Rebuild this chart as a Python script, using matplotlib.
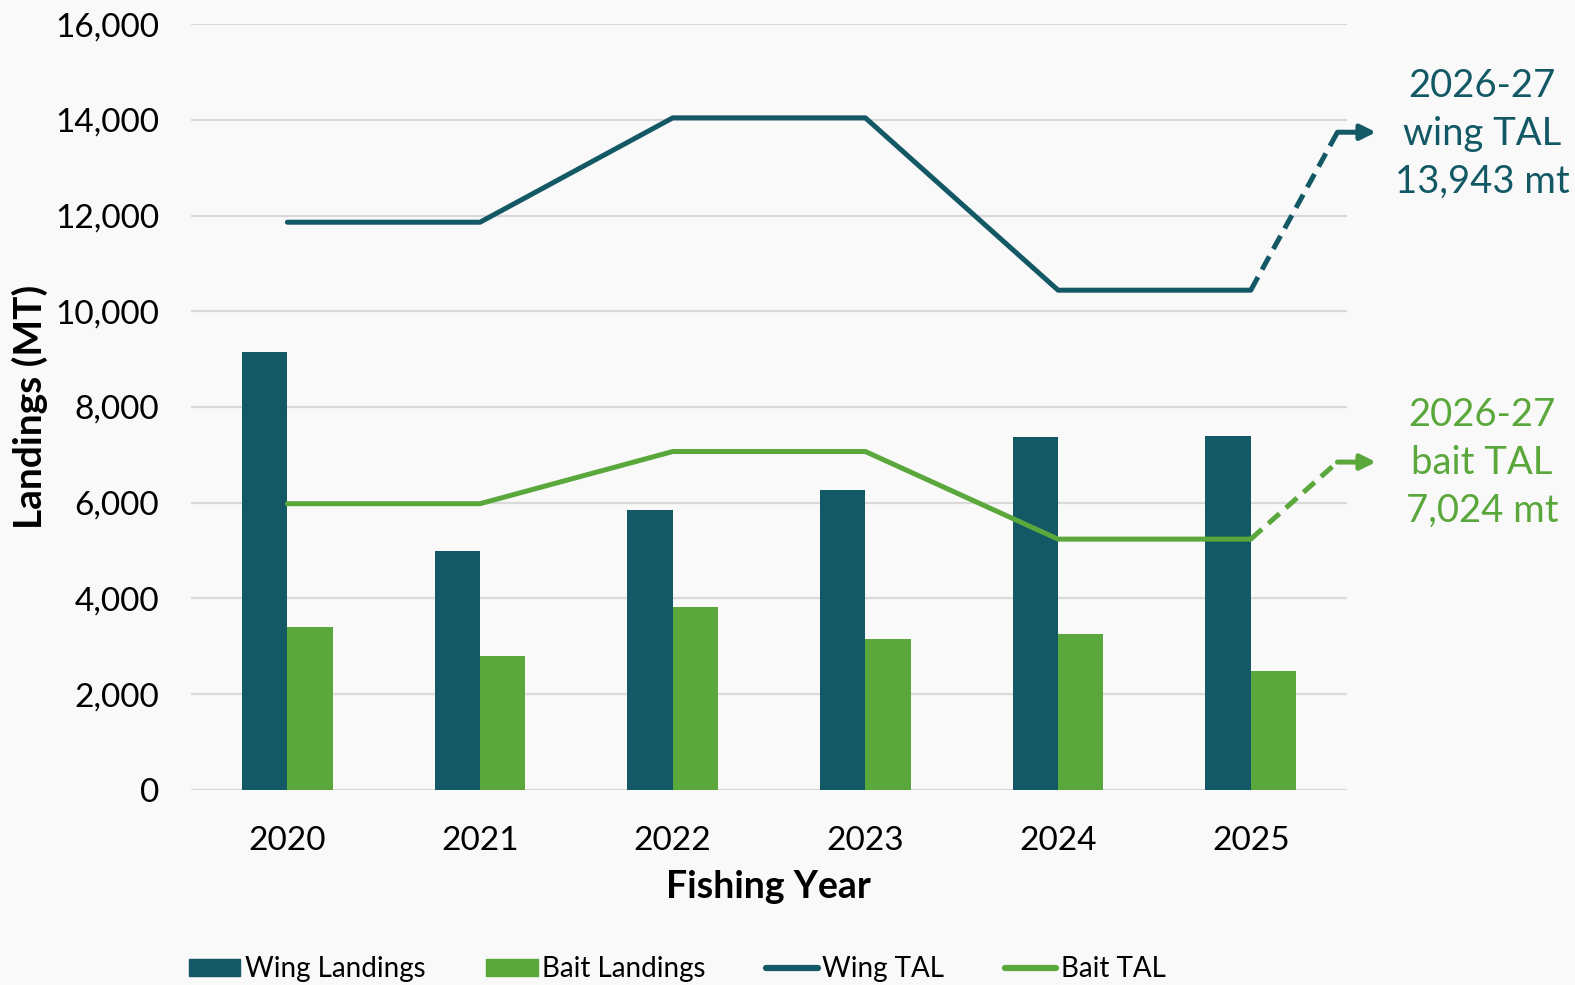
import matplotlib
matplotlib.use("Agg")
import matplotlib.pyplot as plt
import numpy as np
from matplotlib.lines import Line2D
from matplotlib.patches import Patch

plt.rcParams['font.family'] = ['Lato', 'DejaVu Sans']

years = ["2020", "2021", "2022", "2023", "2024", "2025"]
wing_landings = [9150, 5000, 5840, 6260, 7370, 7400]
bait_landings = [3410, 2800, 3830, 3160, 3250, 2490]
wing_tal = [11860, 11860, 14040, 14040, 10440, 10440]
bait_tal = [5980, 5980, 7070, 7070, 5240, 5240]
# projection arrows (drawn heights)
wing_next_y = 13740
bait_next_y = 6850
wing_label = "2026-27\nwing TAL\n13,943 mt"
bait_label = "2026-27\nbait TAL\n7,024 mt"
yticks = [0, 2000, 4000, 6000, 8000, 10000, 12000, 14000, 16000]

WING = "#135965"
BAIT = "#5aa73c"
BG = "#f9f9f9"

fig = plt.figure(figsize=(15.75, 9.85), dpi=100, facecolor=BG)
ax = fig.add_axes([0.1213, 0.198, 0.7340, 0.7776])
ax.set_facecolor(BG)

x = np.arange(len(years))
w = 0.235
ax.bar(x - w / 2, wing_landings, w, color=WING, zorder=2)
ax.bar(x + w / 2, bait_landings, w, color=BAIT, zorder=2)
ax.plot(x, wing_tal, color=WING, lw=3.6, zorder=3, solid_capstyle='round')
ax.plot(x, bait_tal, color=BAIT, lw=3.6, zorder=3, solid_capstyle='round')

# dashed projections
xe = x[-1] + 0.45
xt = x[-1] + 0.65
for last, ny, col in [(wing_tal[-1], wing_next_y, WING), (bait_tal[-1], bait_next_y, BAIT)]:
    ax.plot([x[-1], xe], [last, ny], color=col, lw=3.6, ls=(0, (3.0, 1.7)),
            clip_on=False, zorder=3)
    ax.annotate("", xy=(xt, ny), xytext=(xe, ny),
                arrowprops=dict(arrowstyle="-|>,head_length=0.9,head_width=0.45",
                                color=col, lw=3.6, shrinkA=0, shrinkB=0),
                annotation_clip=False, zorder=3)

ax.set_xlim(-0.5, len(years) - 0.5)
ax.set_ylim(0, 16000)
ax.set_yticks(yticks)
ax.set_yticklabels([f"{v:,}" for v in yticks], fontsize=24)
ax.set_xticks(x)
ax.set_xticklabels(years, fontsize=24)
ax.tick_params(axis='both', length=0, colors='black')
ax.tick_params(axis='y', pad=23)
ax.tick_params(axis='x', pad=26)
ax.grid(axis='y', color='#d9d9d9', lw=1.6, zorder=0)
for s in ax.spines.values():
    s.set_visible(False)

fig.text(0.488, 0.099, "Fishing Year", fontsize=27, fontweight='bold',
         ha='center', va='center')
fig.text(0.019, 0.587, "Landings (MT)", fontsize=28, fontweight='bold',
         ha='center', va='center', rotation=90)

fig.text(0.941, 0.864, wing_label, color=WING, fontsize=27.5, ha='center', va='center',
         linespacing=1.42)
fig.text(0.941, 0.530, bait_label, color=BAIT, fontsize=27.5, ha='center', va='center',
         linespacing=1.42)

handles = [Patch(color=WING), Patch(color=BAIT),
           Line2D([], [], color=WING, lw=4.5, solid_capstyle='round'),
           Line2D([], [], color=BAIT, lw=4.5, solid_capstyle='round')]
labels = ["Wing Landings", "Bait Landings", "Wing TAL", "Bait TAL"]
fig.legend(handles, labels, loc='center', bbox_to_anchor=(0.43, 0.016), ncol=4,
           frameon=False, fontsize=20, handlelength=1.85, handletextpad=0.15,
           columnspacing=2.2, handleheight=0.6)

fig.savefig("out.png", dpi=100, facecolor=BG)
